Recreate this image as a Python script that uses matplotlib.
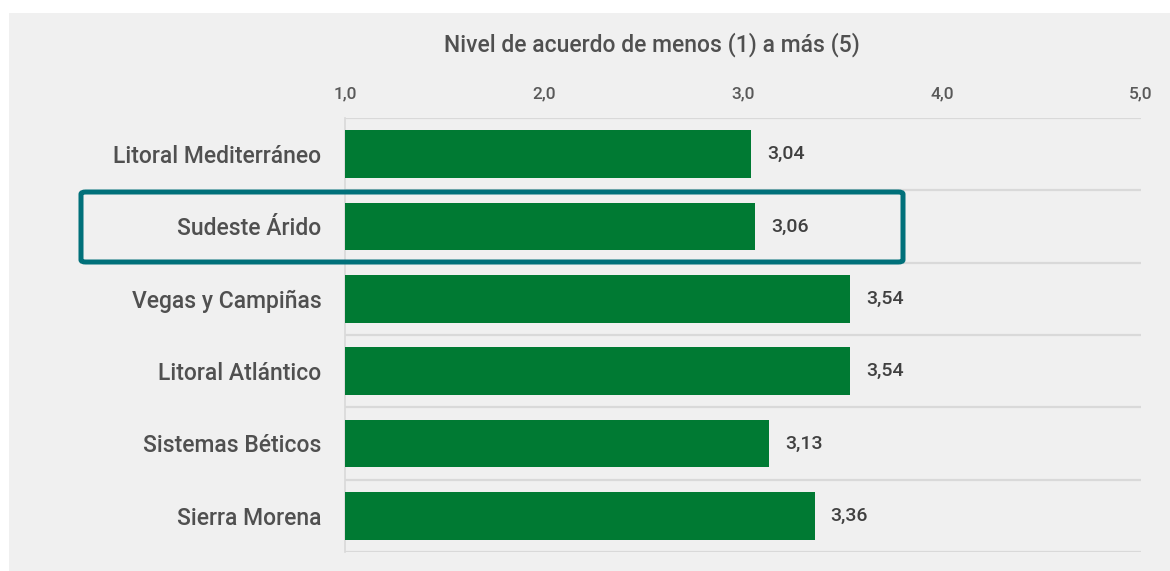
import matplotlib
matplotlib.use("Agg")
import matplotlib.pyplot as plt
from matplotlib.patches import Rectangle, FancyBboxPatch
from matplotlib.ticker import FuncFormatter

categories = ["Litoral Mediterráneo", "Sudeste Árido", "Vegas y Campiñas",
              "Litoral Atlántico", "Sistemas Béticos", "Sierra Morena"]
values = [3.04, 3.06, 3.54, 3.54, 3.13, 3.36]
xticks = [1.0, 2.0, 3.0, 4.0, 5.0]
title = "Nivel de acuerdo de menos (1) a más (5)"
highlight = "Sudeste Árido"

plt.rcParams['font.family'] = ['Roboto', 'DejaVu Sans']
plt.rcParams['font.weight'] = 'medium'

W, H = 1170, 571
fig = plt.figure(figsize=(W/100, H/100), dpi=100, facecolor="white")
bg = "#f0f0f0"
fig.patches.append(Rectangle((9/W, 0), 1 - 9/W, 1 - 13/H, transform=fig.transFigure,
                             facecolor=bg, edgecolor="none", zorder=-5))

ax = fig.add_axes([345/W, 1 - 552/H, (1141-345)/W, (552-118)/H])
ax.set_facecolor("none")
ax.set_zorder(2)

ypos = list(range(len(categories)))
base = 1.0
ax.barh(ypos, [v - base for v in values], left=base, height=0.66,
        color="#007A33", zorder=3)
for y, v in zip(ypos, values):
    ax.text(v + 0.08, y, f"{v:.2f}".replace(".", ","), va="center", ha="left",
            fontsize=14, color="#404040", zorder=4)

ax.set_xlim(1, 5)
ax.set_ylim(len(categories) - 0.5, -0.5)
ax.set_yticks(ypos)
ax.set_yticklabels(categories, fontsize=16.5, color="#505050")
ax.tick_params(axis="y", length=0, pad=17)
ax.xaxis.tick_top()
ax.set_xticks(xticks)
ax.xaxis.set_major_formatter(FuncFormatter(lambda x, p: f"{x:.1f}".replace(".", ",")))
ax.tick_params(axis="x", length=0, pad=12, labelsize=12.5, labelcolor="#595959")

for b in [i - 0.5 for i in range(len(categories) + 1)]:
    ax.axhline(b, color="#d9d9d9", linewidth=1.6, zorder=1)
for s in ["top", "right", "bottom"]:
    ax.spines[s].set_visible(False)
ax.spines["left"].set_color("#d9d9d9")
ax.spines["left"].set_linewidth(1.2)

fig.text(652 / W, 1 - 45/H, title, ha="center", va="center",
         fontsize=16.5, color="#505050")

idx = categories.index(highlight)
box = FancyBboxPatch((81/W, 1 - 262/H), (903-81)/W, 70/H,
                     boxstyle="round,pad=0,rounding_size=0.004",
                     transform=fig.transFigure, facecolor="none",
                     edgecolor="#00707A", linewidth=3.6, zorder=10)
fig.patches.append(box)

fig.savefig("out.png", dpi=100, facecolor="white")
